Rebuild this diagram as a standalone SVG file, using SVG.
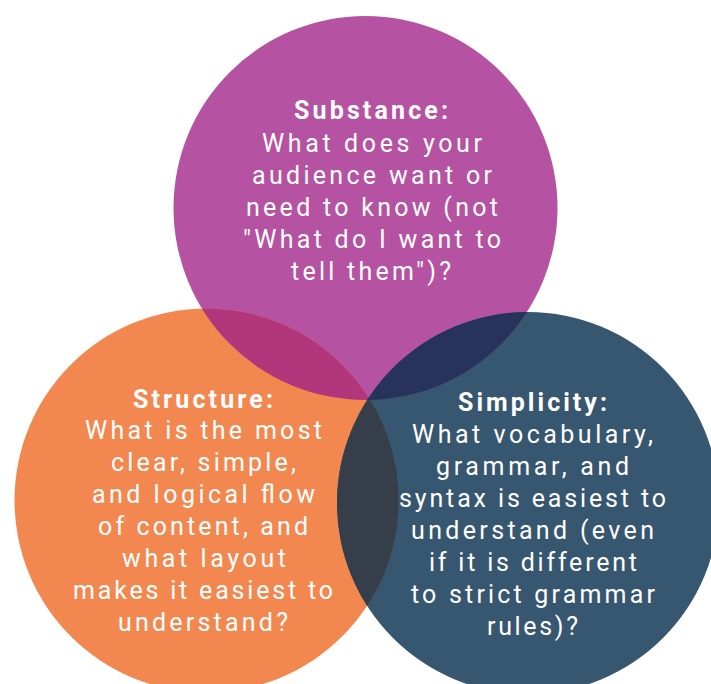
<svg xmlns="http://www.w3.org/2000/svg" width="711" height="684" viewBox="0 0 711 684">
<style>
  text { font-family: Roboto, "Liberation Sans", Arial, sans-serif; font-size: 25px; fill: #ffffff; text-anchor: middle; }
  .t { font-weight: 700; }
</style>
<defs>
  <clipPath id="cpP"><circle cx="365.5" cy="208" r="192"/></clipPath>
  <clipPath id="cpO"><circle cx="206.5" cy="500.5" r="192"/></clipPath>
  <clipPath id="cpB"><circle cx="528" cy="503" r="191"/></clipPath>
</defs>
<rect width="711" height="684" fill="#ffffff"/>
<g id="substance-circle">
  <circle cx="365.5" cy="208" r="192" fill="#B552A2"/>
</g>
<g id="structure-circle">
  <circle cx="206.5" cy="500.5" r="192" fill="#F2884F"/>
</g>
<g id="simplicity-circle">
  <circle cx="528" cy="503" r="191" fill="#37566F"/>
</g>
<g id="overlaps">
  <circle cx="206.5" cy="500.5" r="192" fill="#B1367C" clip-path="url(#cpP)"/>
  <circle cx="528" cy="503" r="191" fill="#28335C" clip-path="url(#cpP)"/>
  <circle cx="528" cy="503" r="191" fill="#363E4A" clip-path="url(#cpO)"/>
  <g clip-path="url(#cpP)">
    <circle cx="528" cy="503" r="191" fill="#2A2F45" clip-path="url(#cpO)"/>
  </g>
</g>
<g id="substance">
  <text class="t" x="371" y="119" textLength="154">Substance:</text>
  <text x="372" y="152" textLength="220">What does your</text>
  <text x="372" y="184" textLength="240">audience want or</text>
  <text x="372" y="216" textLength="252">need to know (not</text>
  <text x="372" y="248" textLength="258">"What do I want to</text>
  <text x="371" y="280" textLength="160">tell them")?</text>
</g>
<g id="structure">
  <text class="t" x="203" y="408" textLength="140">Structure:</text>
  <text x="203.5" y="439" textLength="237">What is the most</text>
  <text x="203.5" y="471" textLength="185">clear, simple,</text>
  <text x="203.5" y="503" textLength="223">and logical flow</text>
  <text x="203" y="535" textLength="210">of content, and</text>
  <text x="204" y="567" textLength="164">what layout</text>
  <text x="203" y="599" textLength="260">makes it easiest to</text>
  <text x="203" y="631" textLength="170">understand?</text>
</g>
<g id="simplicity">
  <text class="t" x="532.5" y="411" textLength="149">Simplicity:</text>
  <text x="532.5" y="443" textLength="241">What vocabulary,</text>
  <text x="532.5" y="475" textLength="193">grammar, and</text>
  <text x="532.5" y="507" textLength="267">syntax is easiest to</text>
  <text x="532.5" y="539" textLength="243">understand (even</text>
  <text x="533" y="571" textLength="208">if it is different</text>
  <text x="533" y="603" textLength="244">to strict grammar</text>
  <text x="532.5" y="635" textLength="91">rules)?</text>
</g>
<g id="connectors"/>
</svg>
